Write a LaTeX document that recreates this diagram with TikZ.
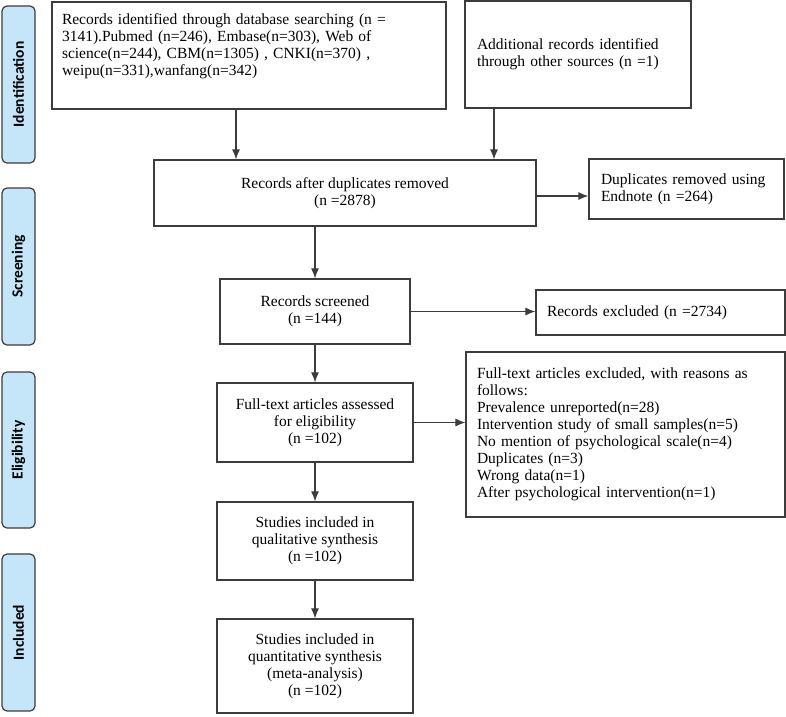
\documentclass[tikz,border=0pt]{standalone}
\usepackage{fontspec}
\setmainfont{Liberation Serif}
\newfontfamily\phasefont{Carlito}
\usetikzlibrary{arrows.meta}

\definecolor{boxline}{HTML}{3C3C3C}
\definecolor{phaseblue}{HTML}{C4E6F8}

\tikzset{
  box/.style={draw=boxline, line width=1.2pt, inner sep=0pt, align=center,
    font=\fontsize{15.5}{17}\selectfont},
  leftbox/.style={box, align=left},
  phase/.style={draw=boxline, line width=1.2pt, fill=phaseblue, rounded corners=5pt,
    rotate=90, minimum height=33pt, inner sep=0pt,
    font=\phasefont\bfseries\fontsize{15.5}{16}\selectfont},
  arr/.style={->, line width=1.1pt, draw=boxline}
}

\begin{document}
\begin{tikzpicture}[>={Latex[length=10pt,width=8pt]}, x=1pt, y=-1pt]

\useasboundingbox (0,0) rectangle (786,716);

% Draw the phase labels
\node[phase, minimum width=157pt] (ident) at (18.5,84.5) {Identification};
\node[phase, minimum width=157pt] (screen) at (18.5,266.5) {Screening};
\node[phase, minimum width=156pt] (elig) at (18.5,450) {Eligibility};
\node[phase, minimum width=157pt] (incl) at (18.5,632.5) {Included};

% Draw the identification boxes
\node[leftbox, minimum width=394pt, minimum height=107pt, inner xsep=10pt, text width=374pt]
  (search) at (249,55.5) {Records identified through database searching (n =\\
  3141).Pubmed (n=246), Embase(n=303), Web of\\
  science(n=244), CBM(n=1305) , CNKI(n=370) ,\\
  weipu(n=331),wanfang(n=342)\\ \strut};
\node[leftbox, minimum width=226pt, minimum height=107pt, inner xsep=12pt, text width=202pt]
  (other) at (578,54.5) {Additional records identified\\through other sources (n =1)\\[4pt]};

% Draw the screening boxes
\node[box, minimum width=382pt, minimum height=66pt] (dedup) at (345,193)
  {Records after duplicates removed\\(n =2878)};
\node[leftbox, minimum width=195pt, minimum height=60pt, inner xsep=12pt, text width=171pt]
  (endnote) at (686.5,189) {Duplicates removed using\\Endnote (n =264)};
\node[box, minimum width=190pt, minimum height=65pt] (screened) at (315,311.5)
  {Records screened\\(n =144)};
\node[leftbox, minimum width=249pt, minimum height=45pt, inner xsep=11pt, text width=227pt]
  (excluded) at (660.5,312.5) {Records excluded (n =2734)};

% Draw the eligibility boxes
\node[box, minimum width=196pt, minimum height=79pt] (fulltext) at (315,422.5)
  {Full-text articles assessed\\for eligibility\\(n =102)};
\node[leftbox, minimum width=319pt, minimum height=165pt, inner xsep=11pt, text width=297pt]
  (reasons) at (625.5,434.5) {Full-text articles excluded, with reasons as\\
  follows:\\
  Prevalence unreported(n=28)\\
  Intervention study of small samples(n=5)\\
  No mention of psychological scale(n=4)\\
  Duplicates (n=3)\\
  Wrong data(n=1)\\
  After psychological intervention(n=1)};

% Draw the included boxes
\node[box, minimum width=196pt, minimum height=78pt] (quali) at (315,541)
  {Studies included in\\qualitative synthesis\\(n =102)};
\node[box, minimum width=196pt, minimum height=94pt] (quanti) at (315,666)
  {Studies included in\\quantitative synthesis\\(meta-analysis)\\(n =102)};

% Draw the arrows
\draw[arr] ([xshift=-13pt]search.south) -- ([xshift=-13pt]search.south |- dedup.north);
\draw[arr] ([xshift=-84pt]other.south) -- ([xshift=-84pt]other.south |- dedup.north);
\draw[arr] ([yshift=-3pt]dedup.east) -- ([yshift=-3pt]dedup.east -| endnote.west);
\draw[arr] (screened.north |- dedup.south) -- (screened.north);
\draw[arr] (screened.east) -- (screened.east -| excluded.west);
\draw[arr] (screened) -- (fulltext);
\draw[arr] (fulltext.east) -- (fulltext.east -| reasons.west);
\draw[arr] (fulltext) -- (quali);
\draw[arr] (quali) -- (quanti);

\end{tikzpicture}
\end{document}
